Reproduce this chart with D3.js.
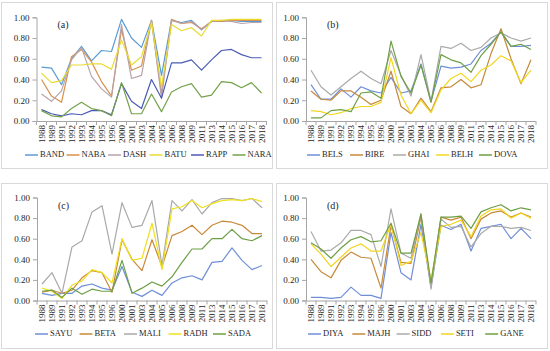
<!DOCTYPE html>
<html>
<head>
<meta charset="utf-8">
<script src="https://cdn.jsdelivr.net/npm/d3@7"></script>
<style>
  body { margin: 0; background: #ffffff; }
  text { font-family: "Liberation Serif", "Times New Roman", serif; fill: #262626; }
</style>
</head>
<body>
<div id="canvas"></div>
<script>
"use strict";

/* Data: the same 23 years on every panel */
let years = ["1988", "1989", "1991", "1992", "1993", "1994", "1995", "1996", "2000", "2001", "2003", "2004",
  "2005", "2006", "2008", "2009", "2011", "2013", "2014", "2015", "2016", "2017", "2018"];
let yTicks = [0, 0.2, 0.4, 0.6, 0.8, 1.0];

// panel (a)
let bandVals = [0.52, 0.51, 0.35, 0.60, 0.72, 0.58, 0.68, 0.67, 0.98, 0.80, 0.71, 0.97, 0.44, 0.97, 0.95, 0.97, 0.88, 0.96, 0.96, 0.97, 0.96, 0.96, 0.96];
let nabaVals = [0.40, 0.24, 0.18, 0.62, 0.69, 0.57, 0.38, 0.24, 0.88, 0.49, 0.53, 0.97, 0.26, 0.98, 0.94, 0.95, 0.89, 0.96, 0.96, 0.97, 0.97, 0.97, 0.97];
let dashVals = [0.26, 0.19, 0.29, 0.59, 0.71, 0.43, 0.31, 0.23, 0.93, 0.41, 0.44, 0.97, 0.22, 0.97, 0.94, 0.96, 0.88, 0.96, 0.97, 0.96, 0.94, 0.95, 0.95];
let batuVals = [0.46, 0.37, 0.39, 0.54, 0.54, 0.55, 0.55, 0.50, 0.78, 0.54, 0.62, 0.95, 0.33, 0.93, 0.87, 0.90, 0.82, 0.97, 0.97, 0.98, 0.98, 0.98, 0.98];
let rappVals = [0.11, 0.07, 0.05, 0.07, 0.06, 0.10, 0.10, 0.06, 0.36, 0.19, 0.12, 0.40, 0.22, 0.56, 0.56, 0.59, 0.49, 0.59, 0.68, 0.69, 0.64, 0.61, 0.61];
let naraVals = [0.10, 0.05, 0.04, 0.12, 0.18, 0.12, 0.10, 0.05, 0.37, 0.07, 0.07, 0.26, 0.09, 0.28, 0.33, 0.36, 0.23, 0.25, 0.38, 0.37, 0.32, 0.37, 0.27];

// panel (b)
let belsVals = [0.35, 0.21, 0.21, 0.31, 0.23, 0.33, 0.29, 0.27, 0.42, 0.27, 0.29, 0.55, 0.19, 0.53, 0.51, 0.52, 0.55, 0.68, 0.75, 0.86, 0.72, 0.72, 0.73];
let bireVals = [0.29, 0.21, 0.20, 0.29, 0.29, 0.23, 0.16, 0.20, 0.48, 0.14, 0.07, 0.22, 0.09, 0.32, 0.33, 0.40, 0.32, 0.35, 0.65, 0.89, 0.60, 0.36, 0.59];
let ghaiVals = [0.49, 0.33, 0.25, 0.33, 0.41, 0.48, 0.41, 0.36, 0.68, 0.44, 0.24, 0.64, 0.19, 0.72, 0.70, 0.75, 0.68, 0.71, 0.80, 0.85, 0.80, 0.77, 0.80];
let belhVals = [0.10, 0.09, 0.06, 0.08, 0.12, 0.14, 0.14, 0.18, 0.61, 0.25, 0.07, 0.20, 0.08, 0.30, 0.41, 0.46, 0.38, 0.49, 0.54, 0.63, 0.58, 0.37, 0.49];
let dovaVals = [0.03, 0.03, 0.10, 0.11, 0.09, 0.27, 0.28, 0.22, 0.77, 0.43, 0.27, 0.54, 0.18, 0.64, 0.59, 0.56, 0.47, 0.63, 0.74, 0.86, 0.72, 0.74, 0.69];

// panel (c)
let sayuVals = [0.07, 0.05, 0.07, 0.07, 0.14, 0.16, 0.12, 0.10, 0.33, 0.08, 0.04, 0.10, 0.05, 0.17, 0.22, 0.24, 0.20, 0.37, 0.38, 0.51, 0.39, 0.30, 0.34];
let betaVals = [0.08, 0.10, 0.07, 0.10, 0.22, 0.29, 0.27, 0.08, 0.59, 0.40, 0.29, 0.59, 0.33, 0.63, 0.67, 0.73, 0.64, 0.73, 0.77, 0.76, 0.73, 0.65, 0.65];
let maliVals = [0.16, 0.27, 0.07, 0.52, 0.58, 0.86, 0.92, 0.45, 0.95, 0.71, 0.73, 0.97, 0.34, 0.97, 0.87, 0.98, 0.84, 0.95, 0.99, 0.99, 0.97, 0.99, 0.90];
let radhVals = [0.12, 0.09, 0.02, 0.15, 0.19, 0.30, 0.27, 0.17, 0.60, 0.39, 0.41, 0.75, 0.30, 0.89, 0.91, 0.97, 0.90, 0.94, 0.97, 0.98, 0.97, 0.99, 0.96];
let sadaVals = [0.09, 0.10, 0.03, 0.12, 0.06, 0.11, 0.09, 0.09, 0.39, 0.07, 0.12, 0.18, 0.14, 0.23, 0.37, 0.50, 0.50, 0.60, 0.60, 0.69, 0.60, 0.58, 0.63];

// panel (d)
let diyaVals = [0.03, 0.03, 0.02, 0.03, 0.13, 0.05, 0.05, 0.02, 0.66, 0.27, 0.20, 0.74, 0.13, 0.73, 0.69, 0.74, 0.48, 0.70, 0.72, 0.74, 0.60, 0.70, 0.60];
let majhVals = [0.40, 0.28, 0.22, 0.39, 0.47, 0.42, 0.41, 0.12, 0.73, 0.37, 0.36, 0.81, 0.15, 0.81, 0.78, 0.81, 0.60, 0.79, 0.85, 0.87, 0.81, 0.85, 0.81];
let siddVals = [0.67, 0.48, 0.49, 0.56, 0.68, 0.68, 0.64, 0.33, 0.89, 0.46, 0.41, 0.84, 0.11, 0.79, 0.71, 0.72, 0.52, 0.65, 0.72, 0.72, 0.70, 0.71, 0.68];
let setiVals = [0.55, 0.45, 0.33, 0.42, 0.51, 0.55, 0.48, 0.48, 0.74, 0.34, 0.38, 0.66, 0.20, 0.72, 0.74, 0.78, 0.62, 0.82, 0.88, 0.89, 0.80, 0.85, 0.80];
let ganeVals = [0.56, 0.50, 0.41, 0.51, 0.59, 0.62, 0.57, 0.58, 0.75, 0.46, 0.46, 0.84, 0.17, 0.81, 0.81, 0.82, 0.70, 0.86, 0.90, 0.93, 0.87, 0.90, 0.88];

/* Drawing canvas */
let svgWidth = 550;
let svgHeight = 351;

let svg = d3.select("#canvas")
  .append("svg")
  .attr("width", svgWidth)
  .attr("height", svgHeight);

/* Panel layout: box, plot area and legend spots (picked by eye) */
let panels = [
  {
    label: "(a)", box: [1, 2, 271, 166], left: 36.5, right: 266.5, top: 17.3, bottom: 121,
    legendY: 155, legendX: 25, legendStep: 41.5,
    names: ["BAND", "NABA", "DASH", "BATU", "RAPP", "NARA"],
    values: [bandVals, nabaVals, dashVals, batuVals, rappVals, naraVals],
    colors: ["#5b9bd5", "#d8914c", "#b8a3aa", "#e8dc34", "#4a5cb6", "#74a24a"]
  },
  {
    label: "(b)", box: [276, 2, 271, 166], left: 306, right: 536, top: 17.3, bottom: 121,
    legendY: 155, legendX: 307, legendStep: 43,
    names: ["BELS", "BIRE", "GHAI", "BELH", "DOVA"],
    values: [belsVals, bireVals, ghaiVals, belhVals, dovaVals],
    colors: ["#6e8fd8", "#c68a3c", "#aaaaaa", "#f0d820", "#6e9f45"]
  },
  {
    label: "(c)", box: [1, 183, 271, 165], left: 37, right: 267, top: 197.5, bottom: 300.5,
    legendY: 334, legendX: 35, legendStep: 44.5,
    names: ["SAYU", "BETA", "MALI", "RADH", "SADA"],
    values: [sayuVals, betaVals, maliVals, radhVals, sadaVals],
    colors: ["#6e8fd8", "#c9893a", "#a9a9a9", "#f0e01c", "#6e9f45"]
  },
  {
    label: "(d)", box: [276, 183, 271, 165], left: 306, right: 536, top: 197.5, bottom: 300.5,
    legendY: 334, legendX: 308, legendStep: 44.3,
    names: ["DIYA", "MAJH", "SIDD", "SETI", "GANE"],
    values: [diyaVals, majhVals, siddVals, setiVals, ganeVals],
    colors: ["#6e8fd8", "#c9893a", "#aaaaaa", "#f2d51e", "#6e9f45"]
  }
];

function drawPanel(p) {
  let g = svg.append("g");

  // box round the panel
  g.append("rect")
    .attr("x", p.box[0] + 0.5)
    .attr("y", p.box[1] + 0.5)
    .attr("width", p.box[2])
    .attr("height", p.box[3])
    .attr("fill", "white")
    .attr("stroke", "#d9d9d9")
    .attr("stroke-width", 1);

  let xScale = d3.scaleBand()
    .domain(years)
    .range([p.left, p.right]);

  let yScale = d3.scaleLinear()
    .domain([0, 1])
    .range([p.bottom, p.top]);

  /* Y axis */
  let yAxis = d3.axisLeft(yScale)
    .tickValues(yTicks)
    .tickSize(4)
    .tickPadding(3)
    .tickFormat(d3.format(".2f"));

  let yG = g.append("g")
    .attr("transform", "translate(" + p.left + ",0)")
    .call(yAxis);
  yG.select(".domain").attr("stroke", "#a6a6a6");
  yG.selectAll(".tick line").attr("stroke", "#a6a6a6");
  yG.selectAll(".tick text")
    .attr("font-size", "9px")
    .attr("font-family", "Liberation Serif, serif")
    .attr("fill", "#262626");

  /* X axis - ticks between categories, like excel */
  let xG = g.append("g")
    .attr("transform", "translate(0," + p.bottom + ")");

  xG.append("line")
    .attr("x1", p.left)
    .attr("x2", p.right)
    .attr("y1", 0.5)
    .attr("y2", 0.5)
    .attr("stroke", "#a6a6a6");

  for (let i = 0; i <= years.length; i = i + 1) {
    let tx = xScale.range()[0] + i * xScale.step();
    xG.append("line")
      .attr("x1", tx)
      .attr("x2", tx)
      .attr("y1", 0)
      .attr("y2", 4)
      .attr("stroke", "#a6a6a6");
  }

  xG.selectAll("text.year")
    .data(years)
    .enter()
    .append("text")
    .classed("year", true)
    .attr("transform", function (d) {
      let cx = xScale(d) + xScale.bandwidth() / 2;
      return "translate(" + (cx + 3) + ",4) rotate(-90)";
    })
    .attr("text-anchor", "end")
    .attr("font-size", "9px")
    .text(function (d) { return d; });

  /* Lines */
  let line = d3.line()
    .x(function (_d, i) { return xScale(years[i]) + xScale.bandwidth() / 2; })
    .y(function (d) { return yScale(d); });

  for (let s = 0; s < p.values.length; s = s + 1) {
    g.append("path")
      .datum(p.values[s])
      .attr("d", line)
      .attr("fill", "none")
      .attr("stroke", p.colors[s])
      .attr("stroke-width", 1.2)
      .attr("stroke-linejoin", "round");
  }

  /* Panel letter */
  g.append("text")
    .attr("x", p.left + 21)
    .attr("y", p.top + 11)
    .attr("font-size", "10px")
    .text(p.label);

  /* Legend */
  for (let s = 0; s < p.names.length; s = s + 1) {
    let lx = p.legendX + s * p.legendStep;
    g.append("line")
      .attr("x1", lx)
      .attr("x2", lx + 13)
      .attr("y1", p.legendY)
      .attr("y2", p.legendY)
      .attr("stroke", p.colors[s])
      .attr("stroke-width", 1.5);

    g.append("text")
      .attr("x", lx + 15)
      .attr("y", p.legendY)
      .attr("dominant-baseline", "middle")
      .attr("font-size", "8.5px")
      .text(p.names[s]);
  }
}

for (let i = 0; i < panels.length; i = i + 1) {
  drawPanel(panels[i]);
}
</script>
</body>
</html>
